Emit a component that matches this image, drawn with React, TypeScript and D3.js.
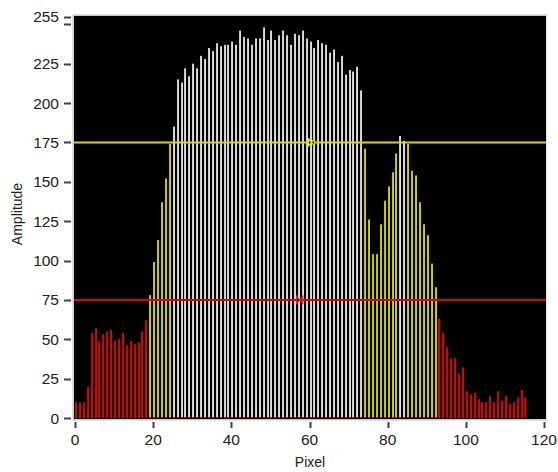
import React from "react";
import * as d3 from "d3";

const pixels: number[] = d3.range(0, 116);
const amplitude: number[] = [
  10, 10, 10, 20, 54, 57, 49, 53, 55, 56,
  49, 50, 54, 46, 49, 47, 48, 55, 62, 78,
  99, 113, 137, 152, 174, 185, 215, 213, 222, 217,
  225, 222, 230, 228, 235, 233, 238, 236, 237, 237,
  239, 237, 246, 242, 241, 237, 241, 241, 248, 240,
  246, 240, 243, 246, 243, 237, 244, 243, 246, 241,
  239, 235, 240, 238, 237, 232, 234, 226, 230, 218,
  221, 220, 223, 208, 171, 126, 104, 104, 123, 138,
  147, 156, 168, 179, 176, 174, 157, 154, 137, 123,
  116, 98, 83, 63, 54, 45, 38, 38, 28, 32,
  17, 15, 16, 12, 10, 10, 14, 10, 17, 11,
  14, 9, 10, 13, 18, 13,
];
const xTicks: number[] = [0, 20, 40, 60, 80, 100, 120];
const yTicks: number[] = [0, 25, 50, 75, 100, 125, 150, 175, 200, 225, 250, 255];
const yLabels: number[] = [0, 25, 50, 75, 100, 125, 150, 175, 200, 225, 255];
const thresholds = { low: 75, high: 175 };
const cursorX = { high: 60.5, low: 57.5 };

const W = 558;
const H = 472;

export default function App() {
  const x = d3.scaleLinear().domain([0, 120]).range([75, 544]);
  const y = d3.scaleLinear().domain([0, 255]).range([418, 16.5]);
  const font = "'Liberation Sans', Arial, sans-serif";

  const colorFor = (v: number) =>
    v >= thresholds.high ? "white" : v >= thresholds.low ? "yellow" : "red";
  const fills: Record<string, [string, string]> = {
    white: ["#a8a8a8", "#ffffff"],
    yellow: ["#a8a800", "#e8e800"],
    red: ["#b00000", "#ff0000"],
  };

  const hourglass = "M-3.5,-3 L3.5,-3 L-3.5,3 L3.5,3 Z";

  return (
    <svg
      width={W}
      height={H}
      style={{ position: "absolute", left: 0, top: 0 }}
      fontFamily={font}
    >
      <rect x={0} y={0} width={W} height={H} fill="white" />
      {/* frame */}
      <rect x={72.5} y={14.5} width={474} height={406} fill="#c8c8c8" />
      <rect x={74} y={16} width={472} height={403} fill="black" />
      {/* bars */}
      {pixels.map((p, i) => {
        const v = amplitude[i];
        const c = fills[colorFor(v)];
        const bx = Math.round(x(p));
        const top = y(v);
        return (
          <g key={p}>
            <rect x={bx} y={top} width={2} height={y(0) - top} fill={c[0]} />
            <rect x={bx + 0.6} y={top} width={1} height={y(0) - top} fill={c[1]} />
            {colorFor(v) !== "red" && (
              <rect x={bx} y={y(0) - 1} width={2} height={1} fill="#ff0000" />
            )}
          </g>
        );
      })}
      {/* threshold lines */}
      <line x1={74} x2={546} y1={y(thresholds.high)} y2={y(thresholds.high)} stroke="#d8d800" strokeWidth={2} />
      <line x1={74} x2={546} y1={y(thresholds.low)} y2={y(thresholds.low)} stroke="#e00000" strokeWidth={2} />
      <path
        d={hourglass}
        transform={`translate(${x(cursorX.high)},${y(thresholds.high)}) rotate(90)`}
        fill="black"
        stroke="#e8e800"
        strokeWidth={1.2}
      />
      <path
        d={hourglass}
        transform={`translate(${x(cursorX.low)},${y(thresholds.low)}) rotate(90)`}
        fill="black"
        stroke="#ff2020"
        strokeWidth={1.2}
      />
      {/* y axis */}
      {yTicks.map((t) => (
        <line key={t} x1={64} x2={71} y1={Math.round(y(t)) + 0.5} y2={Math.round(y(t)) + 0.5} stroke="#404040" strokeWidth={2} />
      ))}
      {yLabels.map((t) => (
        <text key={t} x={59} y={y(t)} dy="0.36em" textAnchor="end" fontSize={15.5} fill="#222">
          {t}
        </text>
      ))}
      {/* x axis */}
      {xTicks.map((t) => (
        <g key={t}>
          <line x1={Math.round(x(t)) + 0.5} x2={Math.round(x(t)) + 0.5} y1={422} y2={428} stroke="#404040" strokeWidth={2} />
          <text x={x(t)} y={445} textAnchor="middle" fontSize={15.5} fill="#222">
            {t}
          </text>
        </g>
      ))}
      <text x={310} y={467} textAnchor="middle" fontSize={14} fill="#222">
        Pixel
      </text>
      <text transform={`translate(22,214) rotate(-90)`} textAnchor="middle" fontSize={14} fill="#222">
        Amplitude
      </text>
    </svg>
  );
}
